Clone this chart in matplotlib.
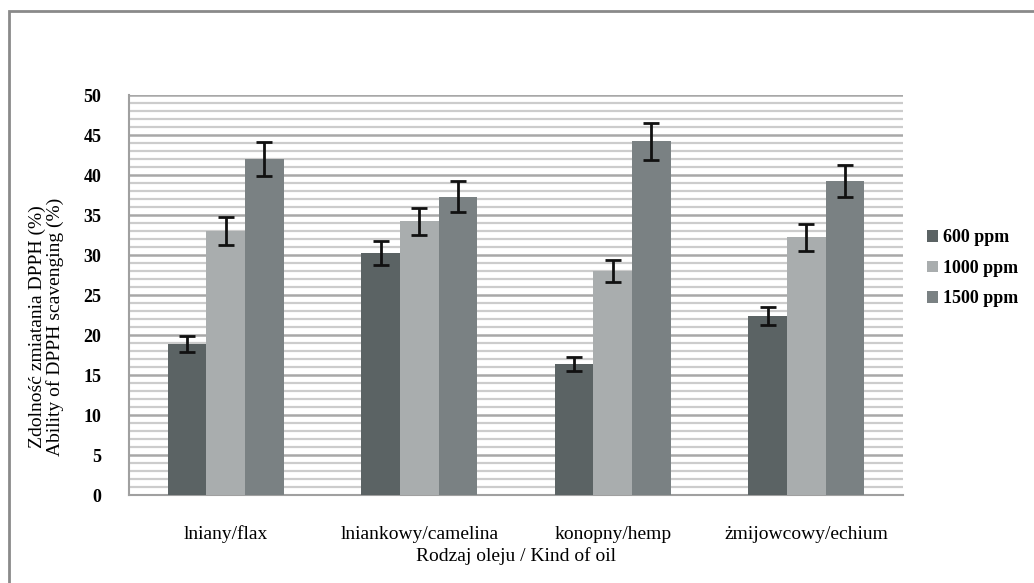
import matplotlib.pyplot as plt
import numpy as np
from matplotlib.patches import Rectangle

plt.rcParams['font.family'] = ['Liberation Serif', 'DejaVu Serif']

categories = ['lniany/flax', 'lniankowy/camelina', 'konopny/hemp', 'żmijowcowy/echium']
series = ['600 ppm', '1000 ppm', '1500 ppm']
v600 = [18.9, 30.2, 16.4, 22.4]
v1000 = [33.0, 34.2, 28.0, 32.2]
v1500 = [42.0, 37.3, 44.2, 39.2]
e600 = [1.0, 1.5, 0.9, 1.1]
e1000 = [1.7, 1.7, 1.4, 1.7]
e1500 = [2.1, 1.9, 2.3, 2.0]
colors = ['#5b6364', '#a9adae', '#7a8183']

fig = plt.figure(figsize=(10.34, 5.83), dpi=100)
ax = fig.add_axes([0.1248, 0.1509, 0.7485, 0.6861])

x = np.arange(len(categories))
w = 0.2
vals = [v600, v1000, v1500]
errs = [e600, e1000, e1500]
for i in range(3):
    ax.bar(x + (i - 1) * w, vals[i], w, color=colors[i], label=series[i], zorder=3,
           yerr=errs[i], error_kw=dict(ecolor='#111111', elinewidth=2, capsize=6, capthick=2, zorder=4))

ax.set_xlim(-0.5, 3.5)
ax.set_ylim(0, 50)
ax.set_yticks(range(0, 51, 5))
ax.set_yticks(range(0, 51, 1), minor=True)
ax.grid(axis='y', which='minor', color='#cccccc', linewidth=1.6, zorder=0)
ax.grid(axis='y', which='major', color='#a8a8a8', linewidth=1.8, zorder=0)
ax.set_xticks(x)
ax.set_xticklabels(categories, fontsize=14)
ax.tick_params(axis='both', which='both', length=0)
ax.tick_params(axis='y', pad=20, labelsize=13)
for t in ax.get_yticklabels():
    t.set_fontweight('bold')
ax.tick_params(axis='x', pad=22)
for s in ['right', 'top']:
    ax.spines[s].set_visible(False)
for s in ['left', 'bottom']:
    ax.spines[s].set_color('#a0a0a0')
    ax.spines[s].set_linewidth(1.5)
ax.set_xlabel('Rodzaj oleju / Kind of oil', fontsize=14, labelpad=3)

fig.text(0.045, 0.44, 'Zdolność zmiatania DPPH (%)\nAbility of DPPH scavenging (%)',
         rotation=90, ha='center', va='center', fontsize=14, linespacing=1.0)

ax.legend(loc='center left', bbox_to_anchor=(1.01, 0.567), frameon=False,
          prop={'size': 13, 'weight': 'bold'},
          handlelength=0.6, handleheight=0.6, handletextpad=0.3, labelspacing=0.75)

fig.patches.append(Rectangle((9 / 1034, -0.1), 1.2, 1 - 11 / 583 + 0.1, transform=fig.transFigure,
                             fill=False, edgecolor='#8a8a8a', linewidth=2))

fig.savefig('out.png', dpi=100)
